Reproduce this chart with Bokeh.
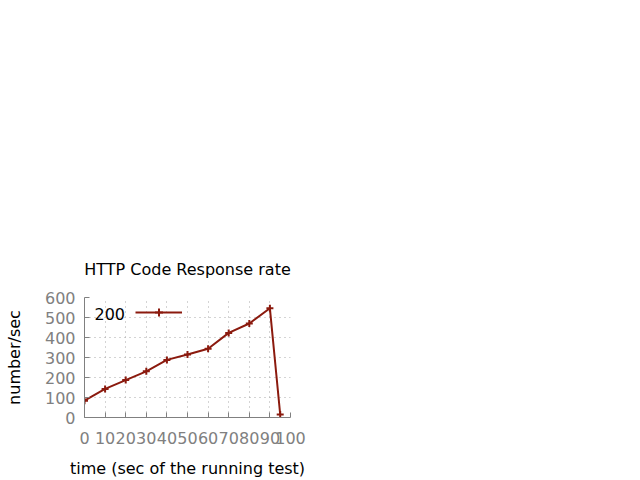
from bokeh.plotting import figure
from bokeh.models import FixedTicker, Range1d, Legend, LegendItem, Label
from bokeh.embed import file_html
from bokeh.resources import INLINE

times = [0, 10, 20, 30, 40, 50, 60, 70, 80, 90, 95]
rate_200 = [84, 143, 187, 231, 288, 315, 344, 423, 470, 546, 15]
x_ticks = [0, 10, 20, 30, 40, 50, 60, 70, 80, 90, 100]
y_ticks = [0, 100, 200, 300, 400, 500, 600]

FONT = "DejaVu Sans"
RED = "#8b1a0e"

p = figure(width=640, height=480, output_backend="svg", toolbar_location=None,
           x_range=Range1d(0, 100), y_range=Range1d(0, 600),
           min_border_left=84, min_border_right=350, min_border_top=297, min_border_bottom=61,
           title="HTTP Code Response rate")
p.background_fill_color = "white"
p.border_fill_color = "white"
p.outline_line_color = None

p.title.text_font = FONT
p.title.text_font_size = "16px"
p.title.text_font_style = "normal"
p.title.text_color = "black"
p.title.align = "center"
p.title.offset = 2
p.title.standoff = 38

for ax in (p.xaxis[0], p.yaxis[0]):
    ax.axis_line_color = "#808080"
    ax.major_tick_line_color = "#808080"
    ax.major_tick_in = 5
    ax.major_tick_out = 0
    ax.minor_tick_line_color = None
    ax.major_label_text_color = "#808080"
    ax.major_label_text_font = FONT
    ax.major_label_text_font_size = "16px"
    ax.axis_label_text_font = FONT
    ax.axis_label_text_font_size = "16px"
    ax.axis_label_text_font_style = "normal"
    ax.axis_label_text_color = "black"

p.xaxis[0].ticker = FixedTicker(ticks=x_ticks)
p.yaxis[0].ticker = FixedTicker(ticks=y_ticks)
p.xaxis[0].axis_label = "time (sec of the running test)"
p.yaxis[0].axis_label = "number/sec"
p.xaxis[0].major_label_standoff = 14
p.xaxis[0].axis_label_standoff = 12
p.yaxis[0].major_label_standoff = 9
p.yaxis[0].axis_label_standoff = 18

for g in (p.xgrid[0], p.ygrid[0]):
    g.grid_line_color = "#a8a8a8"
    g.grid_line_dash = "1 4"
    g.grid_line_width = 1

line = p.line(times, rate_200, line_color=RED, line_width=2)
pts = p.scatter(times, rate_200, marker="cross", size=7, line_color=RED, line_width=2)

legend = Legend(items=[LegendItem(label=" ", renderers=[line, pts])],
                location=(51, 95), padding=0, margin=0, glyph_width=47, glyph_height=20,
                label_standoff=0, label_width=0, background_fill_alpha=0,
                border_line_color=None)
p.add_layout(legend)
p.add_layout(Label(x=10, y=98, x_units="screen", y_units="screen", text="200",
                   text_font=FONT, text_font_size="16px", text_color="black"))

open("out.html", "w").write(file_html(p, INLINE))
